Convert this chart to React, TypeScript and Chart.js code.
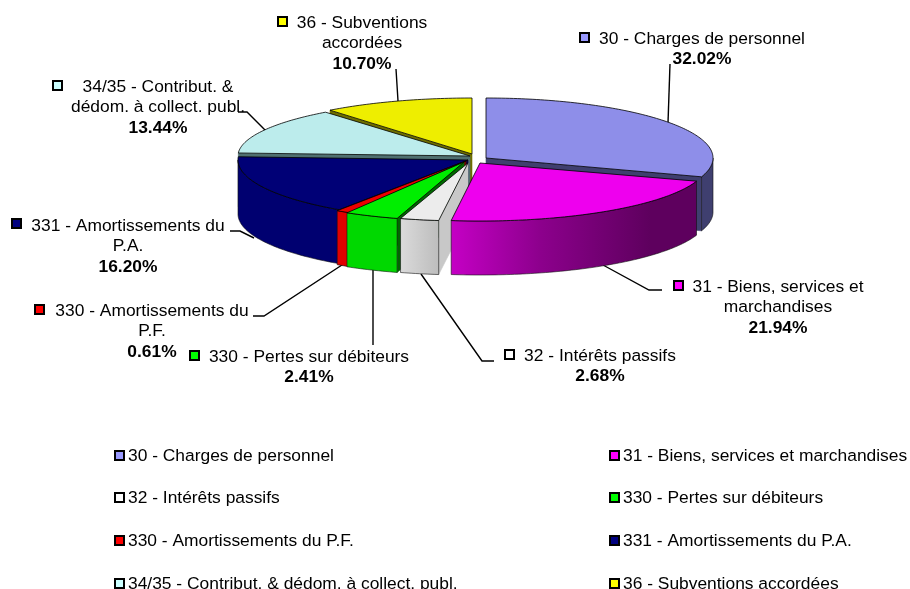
import React, { useEffect, useRef } from "react";
import { Chart, registerables } from "chart.js";

Chart.register(...registerables);

const categories = [
  "30 - Charges de personnel",
  "31 - Biens, services et marchandises",
  "32 - Intérêts passifs",
  "330 - Pertes sur débiteurs",
  "330 - Amortissements du P.F.",
  "331 - Amortissements du P.A.",
  "34/35 - Contribut. & dédom. à collect. publ.",
  "36 - Subventions accordées",
];
const shares = [32.02, 21.94, 2.68, 2.41, 0.61, 16.2, 13.44, 10.7];
const legendColors = ["#9999ff", "#ff00ff", "#ffffff", "#00ff00", "#ff0000", "#000080", "#ccffff", "#ffff00"];
const topColors = ["#8e8ee9", "#ee00ee", "#ececec", "#00ee00", "#ee0000", "#000076", "#bcecec", "#eeee00"];
const wallColors = ["#3f3f6f", "#900090", "#c8c8c8", "#00d800", "#e00000", "#000070", "#507070", "#6e6e00"];
const cutColors = ["#3f3f6f", "#600060", "#c8c8c8", "#006800", "#700000", "#000040", "#507070", "#6e6e00"];
const labelNames = [
  ["30 - Charges de personnel"],
  ["31 - Biens, services et", "marchandises"],
  ["32 - Intérêts passifs"],
  ["330 - Pertes sur débiteurs"],
  ["330 - Amortissements du", "P.F."],
  ["331 - Amortissements du", "P.A."],
  ["34/35 - Contribut. &", "dédom. à collect. publ."],
  ["36 - Subventions", "accordées"],
];

// Layout only
const FONT = '17.4px "Liberation Sans", Arial, sans-serif';
const BOLD = 'bold 17.4px "Liberation Sans", Arial, sans-serif';
const DEPTH = 54;
const drawOrder = [7, 6, 5, 4, 3, 2, 0, 1];
const sliceFrames = [
  { x: 486, y: 158, rx: 227, ry: 60 },
  { x: 480, y: 163, rx: 228, ry: 58 },
  { x: 468, y: 163, rx: 232, ry: 58 },
  { x: 464, y: 162, rx: 230, ry: 59 },
  { x: 466, y: 161, rx: 230, ry: 60 },
  { x: 468, y: 160, rx: 230, ry: 60 },
  { x: 470, y: 156, rx: 232, ry: 56 },
  { x: 472, y: 154, rx: 228, ry: 56 },
];
const labelFrames = [
  { bx: 580, by: 33, cx: 702, y: 39 },
  { bx: 674, by: 281, cx: 778, y: 287 },
  { bx: 505, by: 350, cx: 600, y: 356 },
  { bx: 190, by: 351, cx: 309, y: 357 },
  { bx: 35, by: 305, cx: 152, y: 311 },
  { bx: 12, by: 219, cx: 128, y: 226 },
  { bx: 53, by: 81, cx: 158, y: 87 },
  { bx: 278, by: 17, cx: 362, y: 23 },
];
const leaderLines = [
  [[670, 64], [668, 123]],
  [[662, 290], [649, 290], [603, 265]],
  [[494, 361], [482, 361], [421, 274]],
  [[373, 345], [373, 262]],
  [[253, 316], [264, 316], [345, 263]],
  [[230, 231], [240, 231], [254, 238]],
  [[238, 112], [247, 112], [266, 131]],
  [[396, 69], [398, 101]],
];
const legendCols = [115, 610];
const legendRows = [456, 498, 541, 584];

const DEG = Math.PI / 180;
// The reference pie is drawn in perspective; the near side is pulled towards the viewer.
function warp(theta: number) {
  const d = theta / DEG;
  let b = 0;
  if (d > 60 && d <= 105) b = (d - 60) / 45;
  else if (d > 105 && d <= 204) b = 1;
  else if (d > 204 && d < 216) b = (216 - d) / 12;
  return theta - 7 * DEG * b;
}

const piePlugin = {
  id: "pie3d",
  beforeDatasetsDraw(chart: any) {
    const ctx: CanvasRenderingContext2D = chart.ctx;
    const arcs = chart.getDatasetMeta(0).data;
    const colors = chart.data.datasets[0].backgroundColor as string[];
    ctx.save();

    ctx.strokeStyle = "#000";
    ctx.lineWidth = 1.4;
    leaderLines.forEach((pts) => {
      ctx.beginPath();
      pts.forEach((p, i) => (i ? ctx.lineTo(p[0], p[1]) : ctx.moveTo(p[0], p[1])));
      ctx.stroke();
    });

    drawOrder.forEach((i) => {
      const f = sliceFrames[i];
      const a0 = warp(arcs[i].startAngle + Math.PI / 2);
      const a1 = warp(arcs[i].endAngle + Math.PI / 2);
      const pt = (t: number, dy = 0): [number, number] => [
        f.x + f.rx * Math.sin(t),
        f.y + dy - f.ry * Math.cos(t),
      ];
      const rim = (from: number, to: number, dy = 0) => {
        const n = Math.max(2, Math.ceil(Math.abs(to - from) / DEG));
        const out: [number, number][] = [];
        for (let k = 0; k <= n; k++) out.push(pt(from + ((to - from) * k) / n, dy));
        return out;
      };
      const poly = (pts: [number, number][], fill: any, stroke: string, w: number) => {
        ctx.beginPath();
        pts.forEach((p, k) => (k ? ctx.lineTo(p[0], p[1]) : ctx.moveTo(p[0], p[1])));
        ctx.closePath();
        ctx.fillStyle = fill;
        ctx.fill();
        ctx.strokeStyle = stroke;
        ctx.lineWidth = w;
        ctx.stroke();
      };
      // cut faces that look towards the viewer
      const face = (t: number) => {
        const c = pt(t);
        poly([[f.x, f.y], c, [c[0], c[1] + DEPTH], [f.x, f.y + DEPTH]], cutColors[i], cutColors[i], 0.6);
      };
      if (Math.sin(a0) < -0.01) face(a0);
      if (Math.sin(a1) > 0.01) face(a1);
      // outer wall
      const w0 = Math.max(a0, 90 * DEG);
      const w1 = Math.min(a1, 270 * DEG);
      if (w1 > w0) {
        const top = rim(w0, w1);
        const bottom = rim(w1, w0, DEPTH);
        let fill: any = wallColors[i];
        if (i === 1) {
          const g = ctx.createLinearGradient(452, 0, 650, 0);
          g.addColorStop(0, "#c400c4");
          g.addColorStop(0.45, "#8c008c");
          g.addColorStop(1, "#5e005e");
          fill = g;
        } else if (i === 2) {
          const g = ctx.createLinearGradient(398, 0, 440, 0);
          g.addColorStop(0, "#dcdcdc");
          g.addColorStop(1, "#bcbcbc");
          fill = g;
        }
        poly([...top, ...bottom], fill, "#111", 0.6);
      }
      // top face
      poly([[f.x, f.y], ...rim(a0, a1)], topColors[i], "#000", 0.8);
    });

    // Data labels
    ctx.textBaseline = "middle";
    categories.forEach((_, i) => {
      const l = labelFrames[i];
      ctx.fillStyle = colors[i];
      ctx.strokeStyle = "#000";
      ctx.lineWidth = 2;
      ctx.fillRect(l.bx, l.by, 9, 9);
      ctx.strokeRect(l.bx, l.by, 9, 9);
      ctx.fillStyle = "#000";
      ctx.textAlign = "center";
      ctx.font = FONT;
      labelNames[i].forEach((t, k) => ctx.fillText(t, l.cx, l.y + k * 20.5));
      ctx.font = BOLD;
      ctx.fillText(shares[i].toFixed(2) + "%", l.cx, l.y + labelNames[i].length * 20.5);
    });

    // Legend, two columns
    ctx.textAlign = "left";
    ctx.font = FONT;
    categories.forEach((name, i) => {
      const x = legendCols[i % 2];
      const y = legendRows[Math.floor(i / 2)];
      ctx.fillStyle = colors[i];
      ctx.strokeStyle = "#000";
      ctx.lineWidth = 2;
      ctx.fillRect(x, y - 5, 9, 9);
      ctx.strokeRect(x, y - 5, 9, 9);
      ctx.fillStyle = "#000";
      ctx.fillText(name, x + 13, y);
    });
    ctx.restore();
    return false;
  },
};

export default function App() {
  const ref = useRef<HTMLCanvasElement>(null);
  useEffect(() => {
    document.body.style.margin = "0";
    const chart = new Chart(ref.current as HTMLCanvasElement, {
      type: "pie",
      data: {
        labels: categories,
        datasets: [{ data: shares, backgroundColor: legendColors, borderWidth: 0 }],
      },
      options: {
        responsive: false,
        animation: false,
        plugins: { legend: { display: false }, tooltip: { enabled: false } },
      },
      plugins: [piePlugin as any],
    });
    return () => chart.destroy();
  }, []);
  return <canvas ref={ref} width={910} height={589} style={{ display: "block" }} />;
}
